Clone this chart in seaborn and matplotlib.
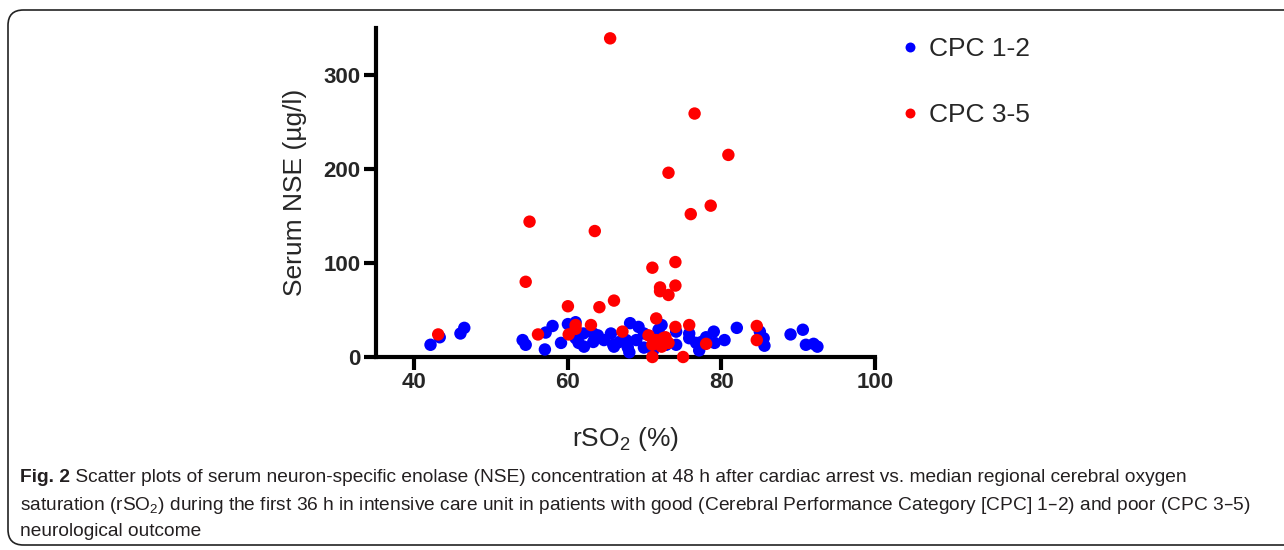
import numpy as np
import pandas as pd
import matplotlib
matplotlib.use("Agg")
import matplotlib.pyplot as plt
from matplotlib.patches import FancyBboxPatch
import seaborn as sns

# values: median rSO2 (%) and serum NSE (ug/l)
good_rso2 = [42.1, 43.3, 46.0, 46.5, 54.1, 54.5, 57.0, 57.1, 58.0, 59.1, 60.0, 61.0,
             61.0, 61.4, 62.1, 62.0, 63.3, 63.3, 63.9, 64.7, 65.6, 65.9, 66.0, 66.7,
             67.6, 67.8, 68.0, 68.1, 68.9, 69.2, 69.9, 69.9, 71.1, 71.8, 72.2, 72.8,
             74.1, 74.1, 75.8, 75.8, 76.7, 77.1, 77.4, 78.0, 79.0, 79.1, 80.4, 82.0,
             85.0, 85.5, 85.6, 89.0, 90.6, 91.0, 92.0, 92.5]
good_nse = [13, 21, 25, 31, 18, 13, 8, 26, 33, 15, 35, 37,
            20, 15, 11, 25, 25, 16, 23, 18, 25, 13, 11, 16,
            18, 10, 5, 36, 18, 32, 25, 10, 7, 29, 34, 13,
            27, 13, 25, 20, 15, 7, 16, 21, 27, 15, 18, 31,
            27, 20, 12, 24, 29, 13, 14, 11]

poor_rso2 = [43.1, 54.5, 55.0, 56.1, 60.0, 60.1, 61.0, 61.0, 63.0, 63.5, 64.1, 65.5,
             66.0, 67.1, 70.5, 71.0, 71.0, 71.0, 71.5, 71.5, 72.0, 72.0, 72.2, 72.4,
             72.7, 73.1, 73.1, 73.1, 74.0, 74.0, 74.0, 75.0, 75.8, 76.0, 76.5, 78.0,
             78.6, 80.9, 84.6, 84.6]
poor_nse = [24, 80, 144, 24, 54, 24, 34, 30, 34, 134, 53, 339,
            60, 27, 23, 95, 0, 13, 41, 18, 74, 70, 11, 20,
            21, 66, 196, 15, 101, 76, 32, 0, 34, 152, 259, 14,
            161, 215, 33, 18]

groups = ["CPC 1-2", "CPC 3-5"]
colors = ["#0000ff", "#ff0000"]

df = pd.DataFrame({
    "rso2": good_rso2 + poor_rso2,
    "nse": good_nse + poor_nse,
    "group": [groups[0]] * len(good_rso2) + [groups[1]] * len(poor_rso2),
})

sns.set_style("ticks")
plt.rcParams["font.family"] = ["Liberation Sans", "DejaVu Sans"]

fig = plt.figure(figsize=(12.84, 5.5), dpi=100)
ax = fig.add_axes([376 / 1284, 1 - 357 / 550, (875 - 376) / 1284, (357 - 28) / 550])

sns.scatterplot(data=df, x="rso2", y="nse", hue="group", hue_order=groups,
                palette=colors, s=80, linewidth=0, ax=ax, clip_on=False, zorder=3)

ax.set_xlim(35, 100)
ax.set_ylim(0, 350)
ax.set_xticks([40, 60, 80, 100])
ax.set_yticks([0, 100, 200, 300])
sns.despine(ax=ax)
for side in ["left", "bottom"]:
    ax.spines[side].set_linewidth(3)
    ax.spines[side].set_color("black")
ax.tick_params(axis="both", length=9, width=3, color="black", labelsize=16, pad=2)
for lab in ax.get_xticklabels() + ax.get_yticklabels():
    lab.set_fontweight("bold")

ax.set_xlabel(r"rSO$_\mathregular{2}$ (%)", fontsize=19, labelpad=23)
ax.set_ylabel("Serum NSE (µg/l)", fontsize=19, labelpad=12)

handles, labels = ax.get_legend_handles_labels()
ax.legend(handles, labels, loc="upper left", bbox_to_anchor=(876 / 1284, 1 - 13 / 550),
          bbox_transform=fig.transFigure, frameon=False, fontsize=19,
          labelspacing=1.6, handlelength=0.8, handletextpad=0.3, markerscale=0.8)

# caption frame and text
frame = FancyBboxPatch((8 / 1284, 5 / 550), 1.05, 535 / 550, transform=fig.transFigure,
                       boxstyle="round,pad=0,rounding_size=0.012", fill=False,
                       edgecolor="#222222", linewidth=1.2, mutation_aspect=1284 / 550)
fig.patches.append(frame)

cap_font = ["Liberation Sans", "DejaVu Sans"]
cap_color = "#231f20"
cap_size = 13.8
t0 = fig.text(20 / 1284, 1 - 478 / 550, "Fig. 2", fontsize=cap_size, fontweight="bold",
              family=cap_font, color=cap_color, va="center")
ax.annotate(" Scatter plots of serum neuron-specific enolase (NSE) concentration at 48 h "
            "after cardiac arrest vs. median regional cerebral oxygen",
            xy=(1, 0.5), xycoords=t0, va="center", fontsize=cap_size, family=cap_font,
            color=cap_color, annotation_clip=False)
fig.text(20 / 1284, 1 - 505 / 550,
         r"saturation (rSO$_\mathregular{2}$) during the first 36 h in intensive care unit in "
         "patients with good (Cerebral Performance Category [CPC] 1–2) and poor (CPC 3–5)",
         fontsize=cap_size, family=cap_font, color=cap_color, va="center")
fig.text(20 / 1284, 1 - 532 / 550, "neurological outcome", fontsize=cap_size,
         family=cap_font, color=cap_color, va="center")

fig.savefig("out.png", dpi=100)
